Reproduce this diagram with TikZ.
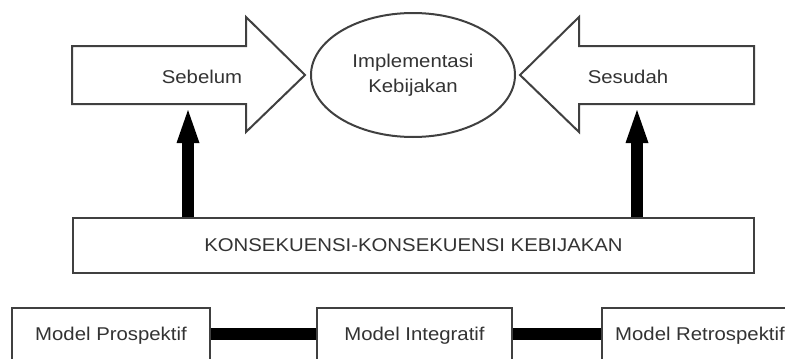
\documentclass[tikz,border=0pt]{standalone}
\usepackage{fontspec}
\setmainfont{Liberation Sans}[FakeStretch=1.1]
\usetikzlibrary{arrows.meta,shapes.geometric}
\definecolor{framec}{HTML}{404040}
\definecolor{textc}{HTML}{333333}
\tikzset{
  frame/.style={draw=framec, line width=2pt, fill=white},
  lbl/.style={text=textc, font=\fontsize{18.5}{22}\selectfont, inner sep=0pt},
  boxnode/.style={frame, lbl, minimum height=56pt, inner sep=0pt},
  uparrow/.style={line width=12pt, black, -{Triangle[width=23pt,length=33pt,line width=0pt]}},
  link/.style={line width=12pt, black}
}
\begin{document}
\begin{tikzpicture}[x=1pt,y=-1pt]
\useasboundingbox (0,0) rectangle (785,359);
\fill[white] (0,0) rectangle (785,359);
\clip (0,0) rectangle (785,359);
% block arrows
\draw[frame, line join=miter] (72,46) -- (246,46) -- (246,17) -- (305,75) -- (246,132) -- (246,104) -- (72,104) -- cycle;
\draw[frame, line join=miter] (754,46) -- (579,46) -- (579,17) -- (520,75) -- (579,132) -- (579,104) -- (754,104) -- cycle;
\node[lbl] (sebelum) at (202,77) {Sebelum};
\node[lbl] (sesudah) at (628,77) {Sesudah};
\coordinate (sebelumbase) at (188,110);
\coordinate (sesudahbase) at (637,110);
% ellipse
\node[ellipse, frame, lbl, minimum width=204pt, minimum height=124pt, align=center, font=\fontsize{18.5}{25}\selectfont] (impl) at (413,75) {Implementasi\\Kebijakan};
% consequences
\node[frame, lbl, minimum width=681pt, minimum height=55pt] (konsek) at (413.5,245.5) {KONSEKUENSI-KONSEKUENSI KEBIJAKAN};
\draw[uparrow] (konsek.north -| sebelumbase) -- (sebelumbase);
\draw[uparrow] (konsek.north -| sesudahbase) -- (sesudahbase);
% models
\node[boxnode, minimum width=198pt] (prosp) at (111,336) {Model Prospektif};
\node[boxnode, minimum width=195pt] (integ) at (414.5,336) {Model Integratif};
\node[boxnode, minimum width=196pt] (retro) at (700,336) {Model Retrospektif};
\draw[link] ([yshift=2pt]prosp.east) -- ([yshift=2pt]integ.west);
\draw[link] ([yshift=2pt]integ.east) -- ([yshift=2pt]retro.west);
\end{tikzpicture}
\end{document}
